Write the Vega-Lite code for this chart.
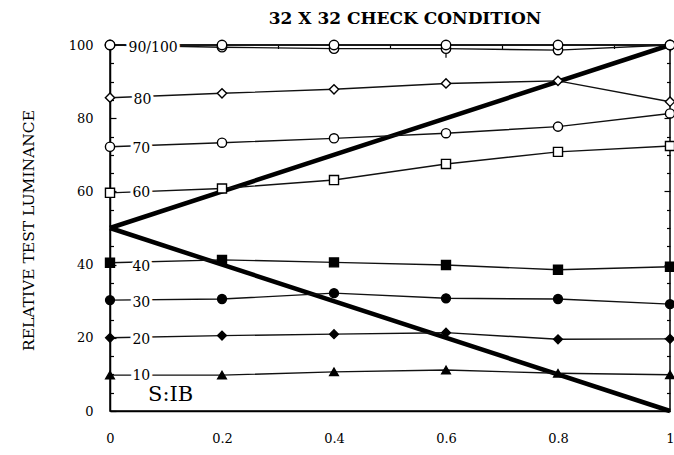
{
  "$schema": "https://vega.github.io/schema/vega-lite/v6.json",
  "width": 560,
  "height": 366,
  "autosize": "none",
  "padding": {"left": 110, "top": 45, "right": 4, "bottom": 44},
  "background": "white",
  "config": {
    "font": "DejaVu Serif",
    "view": {"stroke": "black", "strokeWidth": 1.5},
    "axis": {"domainColor": "black", "domainWidth": 1.5, "labelColor": "black", "labelFont": "DejaVu Serif", "labelFontSize": 13, "titleFont": "DejaVu Serif"}
  },
  "title": {"text": "32 X 32 CHECK CONDITION", "font": "DejaVu Serif", "fontSize": 17, "fontWeight": "bold", "color": "black", "offset": 8, "dx": 15},
  "resolve": {"axis": {"y": "independent"}},
  "datasets": {
    "series": [
      {"s": "10", "x": 0, "y": 9.8}, {"s": "10", "x": 0.2, "y": 9.8}, {"s": "10", "x": 0.4, "y": 10.7}, {"s": "10", "x": 0.6, "y": 11.2}, {"s": "10", "x": 0.8, "y": 10.3}, {"s": "10", "x": 1, "y": 9.9},
      {"s": "20", "x": 0, "y": 20}, {"s": "20", "x": 0.2, "y": 20.6}, {"s": "20", "x": 0.4, "y": 21}, {"s": "20", "x": 0.6, "y": 21.4}, {"s": "20", "x": 0.8, "y": 19.6}, {"s": "20", "x": 1, "y": 19.7},
      {"s": "30", "x": 0, "y": 30.3}, {"s": "30", "x": 0.2, "y": 30.6}, {"s": "30", "x": 0.4, "y": 32.2}, {"s": "30", "x": 0.6, "y": 30.8}, {"s": "30", "x": 0.8, "y": 30.6}, {"s": "30", "x": 1, "y": 29.2},
      {"s": "40", "x": 0, "y": 40.5}, {"s": "40", "x": 0.2, "y": 41.3}, {"s": "40", "x": 0.4, "y": 40.6}, {"s": "40", "x": 0.6, "y": 39.9}, {"s": "40", "x": 0.8, "y": 38.6}, {"s": "40", "x": 1, "y": 39.4},
      {"s": "60", "x": 0, "y": 59.6}, {"s": "60", "x": 0.2, "y": 60.8}, {"s": "60", "x": 0.4, "y": 63.1}, {"s": "60", "x": 0.6, "y": 67.5}, {"s": "60", "x": 0.8, "y": 70.8}, {"s": "60", "x": 1, "y": 72.4},
      {"s": "70", "x": 0, "y": 72.2}, {"s": "70", "x": 0.2, "y": 73.3}, {"s": "70", "x": 0.4, "y": 74.5}, {"s": "70", "x": 0.6, "y": 75.9}, {"s": "70", "x": 0.8, "y": 77.7}, {"s": "70", "x": 1, "y": 81.3},
      {"s": "80", "x": 0, "y": 85.6}, {"s": "80", "x": 0.2, "y": 86.8}, {"s": "80", "x": 0.4, "y": 87.9}, {"s": "80", "x": 0.6, "y": 89.5}, {"s": "80", "x": 0.8, "y": 90.2}, {"s": "80", "x": 1, "y": 84.5},
      {"s": "90", "x": 0, "y": 100}, {"s": "90", "x": 0.2, "y": 99.4}, {"s": "90", "x": 0.4, "y": 99}, {"s": "90", "x": 0.6, "y": 99}, {"s": "90", "x": 0.8, "y": 98.6}, {"s": "90", "x": 1, "y": 100},
      {"s": "100", "x": 0, "y": 100}, {"s": "100", "x": 0.2, "y": 100}, {"s": "100", "x": 0.4, "y": 100}, {"s": "100", "x": 0.6, "y": 100}, {"s": "100", "x": 0.8, "y": 100}, {"s": "100", "x": 1, "y": 100}
    ],
    "diag": [
      {"d": "up", "x": 0, "y": 50}, {"d": "up", "x": 1, "y": 100},
      {"d": "down", "x": 0, "y": 50}, {"d": "down", "x": 1, "y": 0}
    ],
    "labels": [
      {"label": "10", "x": 0.056, "y": 10},
      {"label": "20", "x": 0.056, "y": 20},
      {"label": "30", "x": 0.056, "y": 30},
      {"label": "40", "x": 0.056, "y": 40},
      {"label": "60", "x": 0.056, "y": 60},
      {"label": "70", "x": 0.056, "y": 72},
      {"label": "80", "x": 0.058, "y": 85.5},
      {"label": "90/100", "x": 0.077, "y": 99.6}
    ],
    "err": [{"x": 0.6, "lo": 96.5, "hi": 99}]
  },
  "layer": [
    {
      "data": {"name": "diag"},
      "mark": {"type": "line", "color": "black", "strokeWidth": 4.5},
      "encoding": {
        "x": {"field": "x", "type": "quantitative", "scale": {"domain": [0, 1], "nice": false},
          "axis": {"orient": "bottom", "title": null,
            "values": [0,0.05,0.1,0.15,0.2,0.25,0.3,0.35,0.4,0.45,0.5,0.55,0.6,0.65,0.7,0.75,0.8,0.85,0.9,0.95,1],
            "labelExpr": "round(datum.value*100) % 20 == 0 ? '' + datum.value : ''",
            "ticks": false, "labelPadding": 21, "labelFlush": false, "labelOverlap": false,
            "grid": true, "gridColor": "black", "gridWidth": 1.2, "gridOpacity": 1,
            "gridDash": {"condition": {"test": "round(datum.value*100) % 20 == 0", "value": [6, 600]}, "value": [3.5, 600]}}},
        "y": {"field": "y", "type": "quantitative", "scale": {"domain": [0, 100], "nice": false},
          "axis": {"orient": "left", "title": "RELATIVE TEST LUMINANCE", "titleFontSize": 15.5, "titleFontWeight": "normal", "titleColor": "black", "titleX": -74, "titleY": 185, "titleAngle": -90,
            "values": [0,5,10,15,20,25,30,35,40,45,50,55,60,65,70,75,80,85,90,95,100],
            "labelExpr": "datum.value % 20 == 0 ? '' + datum.value : ''",
            "ticks": false, "labelPadding": 17, "labelOverlap": false,
            "grid": true, "gridColor": "black", "gridWidth": 1.2, "gridOpacity": 1,
            "gridDash": {"condition": {"test": "datum.value % 20 == 0", "value": [6, 700]}, "value": [3.5, 700]}}},
        "detail": {"field": "d"}
      }
    },
    {
      "data": {"name": "series"},
      "mark": {"type": "line", "color": "#111", "strokeWidth": 1.4},
      "encoding": {
        "x": {"field": "x", "type": "quantitative"},
        "y": {"field": "y", "type": "quantitative",
          "axis": {"orient": "right", "title": null, "labels": false, "domain": false, "ticks": false,
            "values": [0,5,10,15,20,25,30,35,40,45,50,55,60,65,70,75,80,85,90,95,100],
            "grid": true, "gridColor": "black", "gridWidth": 1.2, "gridOpacity": 1,
            "gridDash": {"condition": {"test": "datum.value % 20 == 0", "value": [6, 700]}, "value": [3.5, 700]}}},
        "detail": {"field": "s"}
      }
    },
    {
      "data": {"name": "err"},
      "mark": {"type": "rule", "color": "black", "strokeWidth": 1.2},
      "encoding": {
        "x": {"field": "x", "type": "quantitative"},
        "y": {"field": "lo", "type": "quantitative", "axis": null},
        "y2": {"field": "hi"}
      }
    },
    {
      "data": {"name": "series"},
      "mark": {"type": "point", "stroke": "black", "strokeWidth": 1.4, "opacity": 1, "clip": false},
      "encoding": {
        "x": {"field": "x", "type": "quantitative"},
        "y": {"field": "y", "type": "quantitative", "axis": null},
        "shape": {"field": "s", "type": "nominal", "legend": null,
          "scale": {"domain": ["10","20","30","40","60","70","80","90","100"], "range": ["triangle-up","diamond","circle","square","square","circle","diamond","circle","circle"]}},
        "fill": {"field": "s", "type": "nominal", "legend": null,
          "scale": {"domain": ["10","20","30","40","60","70","80","90","100"], "range": ["black","black","black","black","white","white","white","white","white"]}},
        "size": {"field": "s", "type": "nominal", "legend": null,
          "scale": {"domain": ["10","20","30","40","60","70","80","90","100"], "range": [75,90,115,140,180,150,95,90,140]}}
      }
    },
    {
      "data": {"name": "labels"},
      "mark": {"type": "text", "fontSize": 14, "font": "DejaVu Serif", "align": "center", "baseline": "middle", "dy": 2, "fill": "white", "stroke": "white", "strokeWidth": 6},
      "encoding": {
        "x": {"field": "x", "type": "quantitative"},
        "y": {"field": "y", "type": "quantitative", "axis": null},
        "text": {"field": "label"}
      }
    },
    {
      "data": {"name": "labels"},
      "mark": {"type": "text", "fontSize": 14, "font": "DejaVu Serif", "align": "center", "baseline": "middle", "dy": 2, "color": "black"},
      "encoding": {
        "x": {"field": "x", "type": "quantitative"},
        "y": {"field": "y", "type": "quantitative", "axis": null},
        "text": {"field": "label"}
      }
    },
    {
      "data": {"values": [{"t": "S:IB", "x": 0.068, "y": 4.4}]},
      "mark": {"type": "text", "fontSize": 21, "font": "DejaVu Serif", "align": "left", "baseline": "middle", "color": "black"},
      "encoding": {
        "x": {"field": "x", "type": "quantitative"},
        "y": {"field": "y", "type": "quantitative", "axis": null},
        "text": {"field": "t"}
      }
    }
  ]
}
